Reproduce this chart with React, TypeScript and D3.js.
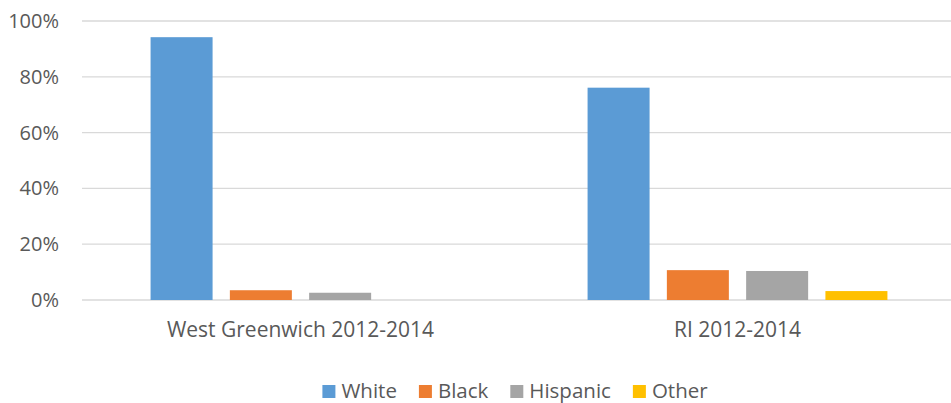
import { useEffect, useRef } from 'react';
import * as d3 from 'd3';

const WIDTH = 951;
const HEIGHT = 403;
const MARGIN = { top: 21, right: -5, bottom: 103, left: 82 };

const groups = ['West Greenwich 2012-2014', 'RI 2012-2014'];
const races = ['White', 'Black', 'Hispanic', 'Other'];
const colors = ['#5B9BD5', '#ED7D31', '#A5A5A5', '#FFC000'];
const westGreenwich = [0.942, 0.035, 0.026, 0.0];
const rhodeIsland = [0.761, 0.107, 0.104, 0.032];
const yTicks = [0, 0.2, 0.4, 0.6, 0.8, 1.0];

const FONT = '"Open Sans", "Noto Sans", sans-serif';
const TEXT_COLOR = '#595959';

export default function App() {
  const svgRef = useRef<SVGSVGElement>(null);

  useEffect(() => {
    if (!svgRef.current) return;
    const svg = d3.select(svgRef.current);
    svg.selectAll('*').remove();

    const boundsWidth = WIDTH - MARGIN.left - MARGIN.right;
    const boundsHeight = HEIGHT - MARGIN.top - MARGIN.bottom;

    const rows = groups.map((g, i) => ({
      group: g,
      values: i === 0 ? westGreenwich : rhodeIsland,
    }));

    const x0 = d3.scaleBand().domain(groups).range([0, boundsWidth]);
    const x1 = d3
      .scaleBand()
      .domain(races)
      .range([0, x0.bandwidth()])
      .paddingInner(0.218)
      .paddingOuter(0.865);
    const y = d3.scaleLinear().domain([0, 1]).range([boundsHeight, 0]);
    const color = d3.scaleOrdinal<string, string>().domain(races).range(colors);

    const g = svg.append('g').attr('transform', `translate(${MARGIN.left},${MARGIN.top})`);

    // grid
    g.selectAll('line.grid')
      .data(yTicks)
      .join('line')
      .attr('class', 'grid')
      .attr('x1', 0)
      .attr('x2', WIDTH - MARGIN.left)
      .attr('y1', (d) => y(d))
      .attr('y2', (d) => y(d))
      .attr('stroke', '#D9D9D9')
      .attr('stroke-width', 1.3);

    // y labels
    g.selectAll('text.ytick')
      .data(yTicks)
      .join('text')
      .attr('class', 'ytick')
      .attr('x', -23)
      .attr('y', (d) => y(d))
      .attr('dy', '0.35em')
      .attr('text-anchor', 'end')
      .style('font-family', FONT)
      .style('font-size', '20px')
      .style('fill', TEXT_COLOR)
      .text((d) => d3.format('.0%')(d));

    // bars
    const grp = g
      .selectAll('g.group')
      .data(rows)
      .join('g')
      .attr('class', 'group')
      .attr('transform', (d) => `translate(${x0(d.group)},0)`);

    grp
      .selectAll('rect')
      .data((d) => d.values.map((v, i) => ({ race: races[i], value: v })))
      .join('rect')
      .attr('x', (d) => x1(d.race)!)
      .attr('width', x1.bandwidth())
      .attr('y', (d) => y(d.value))
      .attr('height', (d) => boundsHeight - y(d.value))
      .attr('fill', (d) => color(d.race));

    // x labels
    g.selectAll('text.xlabel')
      .data(groups)
      .join('text')
      .attr('class', 'xlabel')
      .attr('x', (d) => x0(d)! + x0.bandwidth() / 2)
      .attr('y', boundsHeight + 37)
      .attr('text-anchor', 'middle')
      .style('font-family', FONT)
      .style('font-size', '21px')
      .style('fill', TEXT_COLOR)
      .text((d) => d);

    // legend
    const legend = svg.append('g');
    const items = legend
      .selectAll('g.item')
      .data(races)
      .join('g')
      .attr('class', 'item');
    items
      .append('rect')
      .attr('width', 13)
      .attr('height', 13)
      .attr('y', -6.5)
      .attr('fill', (d) => color(d));
    const labels = items
      .append('text')
      .attr('x', 19)
      .attr('y', 6)
      .style('font-family', FONT)
      .style('font-size', '20.5px')
      .style('fill', TEXT_COLOR)
      .text((d) => d);

    let cursor = 0;
    const gap = 22;
    labels.each(function (_, i) {
      const w = (this as SVGTextElement).getComputedTextLength();
      d3.select(items.nodes()[i]).attr('transform', `translate(${cursor},0)`);
      cursor += 19 + w + gap;
    });
    const total = cursor - gap;
    legend.attr('transform', `translate(${515 - total / 2},391.5)`);
  }, []);

  return (
    <svg
      ref={svgRef}
      width={WIDTH}
      height={HEIGHT}
      style={{ display: 'block', position: 'absolute', left: 0, top: 0, background: '#fff' }}
    />
  );
}
